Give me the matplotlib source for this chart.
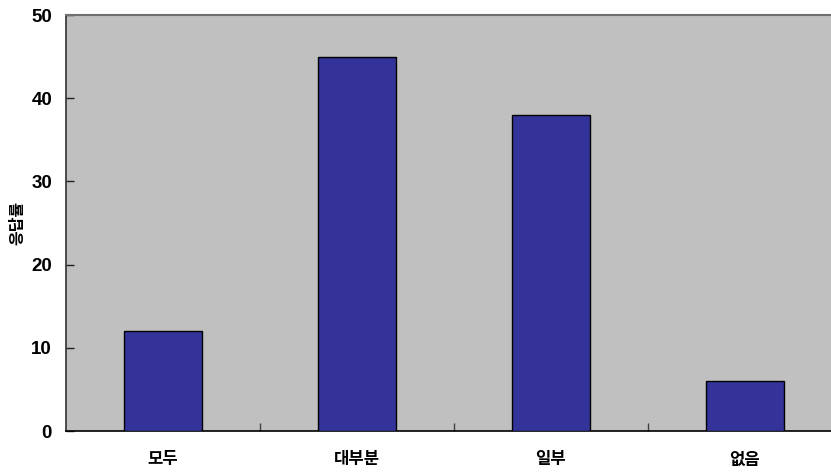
import matplotlib
matplotlib.use("Agg")
import matplotlib.pyplot as plt

categories = ["모두", "대부분", "일부", "없음"]
values = [12, 45, 38, 6]
yticks = [0, 10, 20, 30, 40, 50]
ylabel = "응답률"

W, H = 831, 472
fig = plt.figure(figsize=(W / 100, H / 100), dpi=100)
fig.patch.set_facecolor("white")

# Axes spans a full four-category width; the right side runs past the figure edge
left, right, top, bottom = 66, 66 + 776, 15, 431
ax = fig.add_axes([left / W, 1 - bottom / H, (right - left) / W, (bottom - top) / H])
ax.set_facecolor("#C0C0C0")

x = range(len(categories))
ax.bar(x, values, width=0.4, color="#333399", edgecolor="black", linewidth=1.0, zorder=3)

ax.set_xlim(-0.5, len(categories) - 0.5)
ax.set_ylim(0, 50)

# Category ticks sit between the bars; labels sit under each bar
ax.set_xticks([i + 0.5 for i in range(len(categories) - 1)])
ax.set_xticklabels([])
ax.set_xticks(list(x), minor=True)
ax.set_xticklabels(categories, minor=True, fontsize=12, fontweight="bold",
                   family=["Noto Sans CJK KR", "DejaVu Sans"])
ax.tick_params(axis="x", which="major", direction="in", length=6, width=1, color="#404040")
ax.tick_params(axis="x", which="minor", length=0, pad=14)

ax.set_yticks(yticks)
ax.set_yticklabels([str(v) for v in yticks], fontsize=13.5, fontweight="bold",
                   family=["Liberation Sans", "DejaVu Sans"])
ax.tick_params(axis="y", direction="in", length=6, width=1, color="#202020", pad=10)

ax.set_ylabel(ylabel, fontsize=11.5, fontweight="bold",
              family=["Noto Sans CJK KR", "DejaVu Sans"])
ax.yaxis.set_label_coords(-0.0625, 0.5)
ax.yaxis.label.set_verticalalignment("center")

ax.spines["top"].set_color("#707070")
ax.spines["top"].set_linewidth(1.5)
ax.spines["right"].set_visible(False)
ax.spines["left"].set_color("#303030")
ax.spines["left"].set_linewidth(1.2)
ax.spines["bottom"].set_color("black")
ax.spines["bottom"].set_linewidth(1.2)

fig.savefig("out.png", dpi=100)
